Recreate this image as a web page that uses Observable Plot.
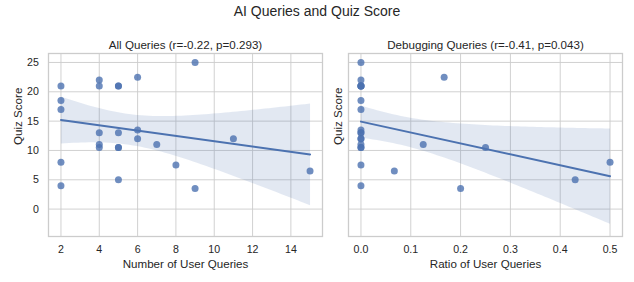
<!DOCTYPE html>
<html><head><meta charset="utf-8">
<script src="https://cdn.jsdelivr.net/npm/d3@7"></script>
<script src="https://cdn.jsdelivr.net/npm/@observablehq/plot@0.6"></script>
<style>
body{margin:0;background:#fff;}
#wrap{position:relative;width:634px;height:282px;font-family:"Liberation Sans",Arial,sans-serif;color:#262626;overflow:hidden;}
#title{position:absolute;left:0;width:634px;top:4px;line-height:14px;text-align:center;font-size:14px;}
.panel{position:absolute;top:0;}
</style></head><body>
<div id="wrap"><div id="title">AI Queries and Quiz Score</div></div>
<script>
// one entry per participant
const queries = [2,2,2,2,2, 4,4,4,4,4, 5,5,5,5,5,5, 6,6,6, 7, 8, 9,9, 11, 15];
const ratios  = [0,0,0,0.5,0, 0,0,0,0,0.25, 0,0,0,0,0,0.43, 0.167,0,0, 0.125, 0, 0,0.2, 0, 0.067];
const scores  = [21,18.5,17,8,4, 22,21,13,11,10.5, 21,21,13,10.5,10.5,5, 22.5,13.5,12, 11, 7.5, 25,3.5, 12, 6.5];

const leftTicks = [2,4,6,8,10,12,14];
const rightTicks = [0,0.1,0.2,0.3,0.4,0.5];
const rightTickLabels = ["0.0","0.1","0.2","0.3","0.4","0.5"];
const yTicks = [0,5,10,15,20,25];

const leftTitle = "All Queries (r=-0.22, p=0.293)";
const rightTitle = "Debugging Queries (r=-0.41, p=0.043)";
const leftXLabel = "Number of User Queries";
const rightXLabel = "Ratio of User Queries";
const yLabel = "Quiz Score";

const data = scores.map((s, i) => ({score: s, queries: queries[i], ratio: ratios[i]}));

const BLUE = "#4c72b0";
const GRID = "#cccccc";
const FONT = "'Liberation Sans', Arial, sans-serif";

function panel({left, width, marginLeft, marginRight, xKey, xDomain, xTicks, xFormat, title, xLabel, showYTicks, yLabelDx}) {
  const marks = [
    Plot.gridX(xTicks, {stroke: GRID, strokeOpacity: 1, strokeWidth: 0.9}),
    Plot.gridY(yTicks, {stroke: GRID, strokeOpacity: 1, strokeWidth: 0.9}),
    Plot.frame({stroke: GRID, strokeWidth: 1.3}),
    Plot.axisX(xTicks, {tickSize: 0, tickPadding: 9, label: null, fontSize: 10.6, tickFormat: xFormat}),
    Plot.dot(data, {x: xKey, y: "score", r: 3.5, fill: BLUE, fillOpacity: 0.8}),
    Plot.linearRegressionY(data, {x: xKey, y: "score", stroke: BLUE, strokeWidth: 2, fill: BLUE, fillOpacity: 0.16}),
    Plot.text([title], {frameAnchor: "top", dy: -8.4, lineAnchor: "middle", fontSize: 11.6, fill: "#262626"}),
    Plot.text([xLabel], {frameAnchor: "bottom", dy: 27.6, lineAnchor: "middle", fontSize: 11.6, fill: "#262626"}),
    Plot.text([yLabel], {frameAnchor: "left", dx: yLabelDx, rotate: -90, lineAnchor: "middle", fontSize: 11.6, fill: "#262626"})
  ];
  if (showYTicks) marks.push(Plot.axisY(yTicks, {tickSize: 0, tickPadding: 9.7, label: null, fontSize: 10.6}));
  const svg = Plot.plot({
    width, height: 282,
    marginLeft, marginRight, marginTop: 53, marginBottom: 46,
    style: {fontFamily: FONT, color: "#262626", background: "transparent", overflow: "visible"},
    x: {domain: xDomain, axis: null},
    y: {domain: [-4.67, 26.53], axis: null},
    marks
  });
  svg.classList.add("panel");
  svg.style.left = left + "px";
  return svg;
}

const wrap = document.getElementById("wrap");
wrap.appendChild(panel({
  left: 0, width: 330, marginLeft: 48, marginRight: 8,
  xKey: "queries", xDomain: [1.35, 15.65], xTicks: leftTicks, xFormat: d => String(d),
  title: leftTitle, xLabel: leftXLabel, showYTicks: true, yLabelDx: -30.7
}));
wrap.appendChild(panel({
  left: 330, width: 304, marginLeft: 18, marginRight: 12,
  xKey: "ratio", xDomain: [-0.025, 0.525], xTicks: rightTicks, xFormat: (d, i) => rightTickLabels[i],
  title: rightTitle, xLabel: rightXLabel, showYTicks: false, yLabelDx: -10
}));
</script>
</body></html>
